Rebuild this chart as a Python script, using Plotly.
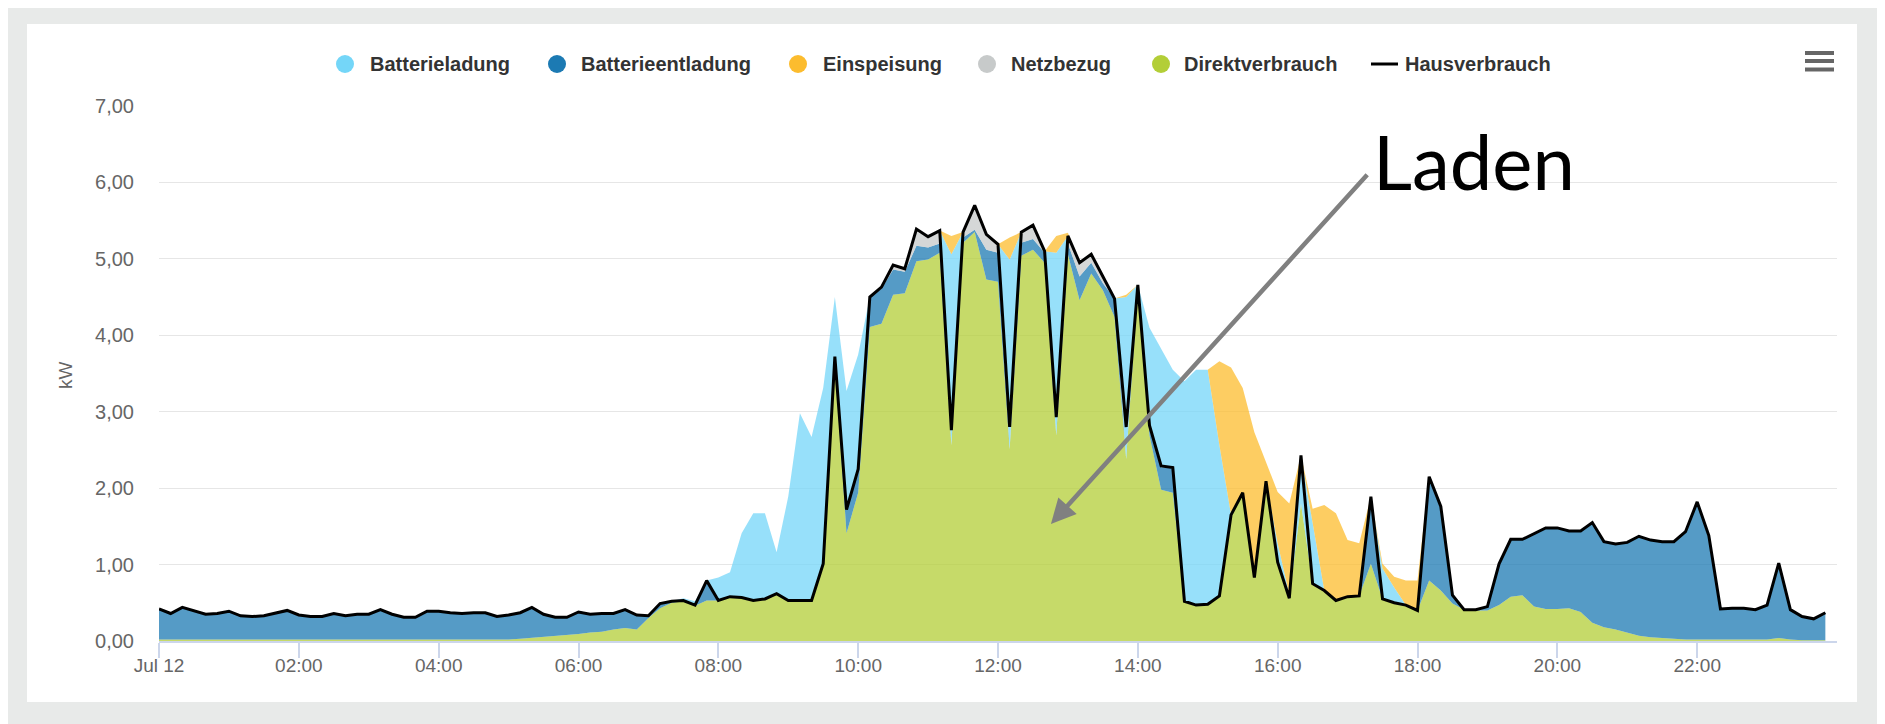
"""Hausverbrauch / PV-Tagesverlauf - stacked area chart
"""

import pandas as pd
import plotly.graph_objects as go

# 10-Minuten-Werte, 12. Juli (kW)
zeit = pd.date_range("2023-07-12 00:00", periods=144, freq="10min")

hausverbrauch = [
    0.42, 0.36, 0.44, 0.39, 0.35, 0.36, 0.39, 0.33, 0.32, 0.33, 0.37, 0.40,
    0.34, 0.32, 0.32, 0.36, 0.33, 0.35, 0.35, 0.41, 0.35, 0.31, 0.31, 0.39,
    0.39, 0.37, 0.36, 0.37, 0.37, 0.32, 0.34, 0.37, 0.44, 0.35, 0.31, 0.31,
    0.38, 0.35, 0.36, 0.36, 0.41, 0.34, 0.33, 0.49, 0.52, 0.53, 0.47, 0.79,
    0.53, 0.58, 0.57, 0.53, 0.55, 0.62, 0.53, 0.53, 0.53, 1.01, 3.72, 1.72,
    2.25, 4.50, 4.63, 4.92, 4.87, 5.39, 5.29, 5.37, 2.76, 5.35, 5.70, 5.32,
    5.19, 2.80, 5.35, 5.44, 5.10, 2.93, 5.30, 4.95, 5.06, 4.77, 4.48, 2.80,
    4.66, 2.82, 2.29, 2.27, 0.52, 0.47, 0.48, 0.59, 1.65, 1.94, 0.83, 2.09,
    1.03, 0.56, 2.43, 0.75, 0.66, 0.53, 0.58, 0.59, 1.89, 0.55, 0.50, 0.47,
    0.40, 2.15, 1.76, 0.60, 0.41, 0.41, 0.45, 1.01, 1.33, 1.33, 1.41, 1.48,
    1.48, 1.44, 1.44, 1.55, 1.30, 1.27, 1.29, 1.37, 1.32, 1.30, 1.30, 1.43,
    1.82, 1.38, 0.42, 0.43, 0.43, 0.41, 0.47, 1.02, 0.41, 0.32, 0.29, 0.37,
]

direktverbrauch = [
    0.02, 0.02, 0.02, 0.02, 0.02, 0.02, 0.02, 0.02, 0.02, 0.02, 0.02, 0.02,
    0.02, 0.02, 0.02, 0.02, 0.02, 0.02, 0.02, 0.02, 0.02, 0.02, 0.02, 0.02,
    0.02, 0.02, 0.02, 0.02, 0.02, 0.02, 0.02, 0.03, 0.04, 0.05, 0.06, 0.08,
    0.09, 0.11, 0.12, 0.15, 0.17, 0.15, 0.30, 0.43, 0.50, 0.52, 0.46, 0.53,
    0.53, 0.58, 0.57, 0.53, 0.55, 0.62, 0.53, 0.53, 0.53, 1.01, 3.65, 1.41,
    1.94, 4.11, 4.15, 4.53, 4.55, 4.97, 4.99, 5.08, 2.56, 5.21, 5.35, 4.73,
    4.70, 2.51, 5.04, 5.12, 4.95, 2.69, 5.06, 4.46, 4.81, 4.59, 4.24, 2.38,
    4.60, 2.69, 1.98, 1.94, 0.52, 0.47, 0.48, 0.59, 1.65, 1.94, 0.83, 2.09,
    1.00, 0.55, 1.80, 0.75, 0.66, 0.53, 0.58, 0.59, 1.01, 0.55, 0.50, 0.47,
    0.40, 0.79, 0.66, 0.49, 0.41, 0.40, 0.40, 0.47, 0.58, 0.60, 0.45, 0.42,
    0.42, 0.43, 0.38, 0.24, 0.18, 0.15, 0.11, 0.07, 0.05, 0.04, 0.03, 0.02,
    0.02, 0.02, 0.02, 0.02, 0.02, 0.02, 0.02, 0.04, 0.02, 0.01, 0.01, 0.01,
]

batterieentladung = [
    0.40, 0.34, 0.42, 0.37, 0.33, 0.34, 0.37, 0.31, 0.30, 0.31, 0.35, 0.38,
    0.32, 0.30, 0.30, 0.34, 0.31, 0.33, 0.33, 0.39, 0.33, 0.29, 0.29, 0.37,
    0.37, 0.35, 0.34, 0.35, 0.35, 0.30, 0.32, 0.34, 0.40, 0.30, 0.25, 0.23,
    0.29, 0.24, 0.24, 0.21, 0.24, 0.19, 0.03, 0.06, 0.02, 0.01, 0.01, 0.26,
    0.00, 0.00, 0.00, 0.00, 0.00, 0.00, 0.00, 0.00, 0.00, 0.00, 0.07, 0.31,
    0.31, 0.39, 0.46, 0.33, 0.28, 0.20, 0.16, 0.12, 0.00, 0.07, 0.03, 0.39,
    0.38, 0.00, 0.17, 0.14, 0.13, 0.00, 0.14, 0.31, 0.14, 0.09, 0.24, 0.00,
    0.06, 0.13, 0.29, 0.33, 0.00, 0.00, 0.00, 0.00, 0.00, 0.00, 0.00, 0.00,
    0.03, 0.01, 0.00, 0.00, 0.00, 0.00, 0.00, 0.00, 0.88, 0.00, 0.00, 0.00,
    0.00, 1.36, 1.10, 0.11, 0.00, 0.01, 0.05, 0.54, 0.75, 0.73, 0.96, 1.06,
    1.06, 1.01, 1.06, 1.31, 1.12, 1.12, 1.18, 1.30, 1.27, 1.26, 1.27, 1.41,
    1.80, 1.36, 0.40, 0.41, 0.41, 0.39, 0.45, 0.98, 0.39, 0.31, 0.28, 0.36,
]

netzbezug = [
    0.00, 0.00, 0.00, 0.00, 0.00, 0.00, 0.00, 0.00, 0.00, 0.00, 0.00, 0.00,
    0.00, 0.00, 0.00, 0.00, 0.00, 0.00, 0.00, 0.00, 0.00, 0.00, 0.00, 0.00,
    0.00, 0.00, 0.00, 0.00, 0.00, 0.00, 0.00, 0.00, 0.00, 0.00, 0.00, 0.00,
    0.00, 0.00, 0.00, 0.00, 0.00, 0.00, 0.00, 0.00, 0.00, 0.00, 0.00, 0.00,
    0.00, 0.00, 0.00, 0.00, 0.00, 0.00, 0.00, 0.00, 0.00, 0.00, 0.00, 0.00,
    0.00, 0.00, 0.02, 0.06, 0.04, 0.20, 0.14, 0.17, 0.00, 0.07, 0.32, 0.20,
    0.11, 0.00, 0.14, 0.18, 0.02, 0.00, 0.10, 0.18, 0.11, 0.09, 0.00, 0.00,
    0.00, 0.00, 0.00, 0.00, 0.00, 0.00, 0.00, 0.00, 0.00, 0.00, 0.00, 0.00,
    0.00, 0.00, 0.00, 0.00, 0.00, 0.00, 0.00, 0.00, 0.00, 0.00, 0.00, 0.00,
    0.00, 0.00, 0.00, 0.00, 0.00, 0.00, 0.00, 0.00, 0.00, 0.00, 0.00, 0.00,
    0.00, 0.00, 0.00, 0.00, 0.00, 0.00, 0.00, 0.00, 0.00, 0.00, 0.00, 0.00,
    0.00, 0.00, 0.00, 0.00, 0.00, 0.00, 0.00, 0.00, 0.00, 0.00, 0.00, 0.00,
]

batterieladung = [
    0.00, 0.00, 0.00, 0.00, 0.00, 0.00, 0.00, 0.00, 0.00, 0.00, 0.00, 0.00,
    0.00, 0.00, 0.00, 0.00, 0.00, 0.00, 0.00, 0.00, 0.00, 0.00, 0.00, 0.00,
    0.00, 0.00, 0.00, 0.00, 0.00, 0.00, 0.00, 0.00, 0.00, 0.00, 0.00, 0.00,
    0.00, 0.00, 0.00, 0.00, 0.00, 0.00, 0.00, 0.00, 0.00, 0.03, 0.05, 0.00,
    0.30, 0.32, 0.84, 1.14, 1.12, 0.54, 1.36, 2.45, 2.14, 2.30, 0.78, 1.55,
    1.50, 0.00, 0.00, 0.00, 0.00, 0.00, 0.00, 0.00, 2.50, 0.00, 0.00, 0.00,
    0.00, 2.48, 0.00, 0.00, 0.00, 2.39, 0.00, 0.00, 0.00, 0.00, 0.00, 2.12,
    0.00, 1.28, 1.56, 1.28, 2.88, 3.08, 3.07, 1.97, 0.00, 0.00, 0.00, 0.00,
    0.25, 0.05, 0.63, 0.81, 0.00, 0.00, 0.00, 0.00, 0.00, 0.40, 0.20, 0.00,
    0.00, 0.00, 0.00, 0.03, 0.00, 0.00, 0.00, 0.00, 0.00, 0.00, 0.00, 0.00,
    0.00, 0.00, 0.00, 0.00, 0.00, 0.00, 0.00, 0.00, 0.00, 0.00, 0.00, 0.00,
    0.00, 0.00, 0.00, 0.00, 0.00, 0.00, 0.00, 0.00, 0.00, 0.00, 0.00, 0.00,
]

einspeisung = [
    0.00, 0.00, 0.00, 0.00, 0.00, 0.00, 0.00, 0.00, 0.00, 0.00, 0.00, 0.00,
    0.00, 0.00, 0.00, 0.00, 0.00, 0.00, 0.00, 0.00, 0.00, 0.00, 0.00, 0.00,
    0.00, 0.00, 0.00, 0.00, 0.00, 0.00, 0.00, 0.00, 0.00, 0.00, 0.00, 0.00,
    0.00, 0.00, 0.00, 0.00, 0.00, 0.00, 0.00, 0.00, 0.00, 0.00, 0.00, 0.00,
    0.00, 0.00, 0.00, 0.00, 0.00, 0.00, 0.00, 0.00, 0.00, 0.00, 0.00, 0.00,
    0.00, 0.00, 0.00, 0.00, 0.00, 0.00, 0.00, 0.00, 0.24, 0.00, 0.00, 0.00,
    0.00, 0.29, 0.00, 0.00, 0.00, 0.22, 0.04, 0.00, 0.00, 0.00, 0.00, 0.03,
    0.00, 0.00, 0.00, 0.00, 0.00, 0.00, 0.00, 1.10, 1.93, 1.37, 1.90, 0.25,
    0.67, 1.19, 0.00, 0.17, 1.12, 1.14, 0.74, 0.69, 0.00, 0.06, 0.14, 0.32,
    0.39, 0.00, 0.00, 0.00, 0.00, 0.00, 0.00, 0.00, 0.00, 0.00, 0.00, 0.00,
    0.00, 0.00, 0.00, 0.00, 0.00, 0.00, 0.00, 0.00, 0.00, 0.00, 0.00, 0.00,
    0.00, 0.00, 0.00, 0.00, 0.00, 0.00, 0.00, 0.00, 0.00, 0.00, 0.00, 0.00,
]

tick_zeit = pd.date_range("2023-07-12 00:00", periods=12, freq="2h")
tick_text = ["Jul 12", "02:00", "04:00", "06:00", "08:00", "10:00",
             "12:00", "14:00", "16:00", "18:00", "20:00", "22:00"]

legende = ["Batterieladung", "Batterieentladung", "Einspeisung",
           "Netzbezug", "Direktverbrauch", "Hausverbrauch"]

# Farben (Legende voll, Flaechen mit 75 % Deckkraft)
farben = {
    "Batterieladung": "#74d6f8",
    "Batterieentladung": "#1c7ab3",
    "Einspeisung": "#fcbc2e",
    "Netzbezug": "#c7caca",
    "Direktverbrauch": "#b3ce37",
}

# die Seite hat 8px Rand (body margin) -> alles um 8px verschoben
OFF = 8
W, H = 1885 - OFF, 724 - OFF
L, R, T, B = 151, 48, 98, 83
PW = W - L - R
PH = H - T - B


def px(x, y):
    """Pixel im Fenster (von oben links) -> paper-Koordinaten"""
    return (x - OFF - L) / PW, (H - B - (y - OFF)) / PH


def rgba(hexcol, a):
    h = hexcol.lstrip("#")
    return "rgba(%d,%d,%d,%s)" % (int(h[0:2], 16), int(h[2:4], 16), int(h[4:6], 16), a)


fig = go.Figure()

# Stapelreihenfolge von unten nach oben
stapel = [
    ("Direktverbrauch", direktverbrauch),
    ("Batterieentladung", batterieentladung),
    ("Netzbezug", netzbezug),
    ("Batterieladung", batterieladung),
    ("Einspeisung", einspeisung),
]
for name, werte in stapel:
    fig.add_trace(go.Scatter(
        x=zeit, y=werte, name=name, mode="lines", stackgroup="pv",
        line=dict(width=0, color=farben[name]),
        fillcolor=rgba(farben[name], 0.75),
        showlegend=False, hoverinfo="skip",
    ))

fig.add_trace(go.Scatter(
    x=zeit, y=hausverbrauch, name="Hausverbrauch", mode="lines",
    line=dict(color="#000000", width=3), showlegend=False,
))

shapes = []
annotations = []

# grauer Rahmen + weisse Karte
x0, y0 = px(8, 6)
x1, y1 = px(1880, 730)
shapes.append(dict(type="rect", xref="paper", yref="paper", x0=x0, y0=y1, x1=x1, y1=y0,
                   fillcolor="#e8eae9", line=dict(width=0), layer="below"))
x0, y0 = px(27, 24)
x1, y1 = px(1857, 702)
shapes.append(dict(type="rect", xref="paper", yref="paper", x0=x0, y0=y1, x1=x1, y1=y0,
                   fillcolor="#ffffff", line=dict(width=0), layer="below"))

# Menue-Symbol
for yy in (53, 61, 69.5):
    a0, b0 = px(1805, yy)
    a1, b1 = px(1834, yy)
    shapes.append(dict(type="line", xref="paper", yref="paper", x0=a0, y0=b0, x1=a1, y1=b1,
                       line=dict(color="#666666", width=4)))

# Legende von Hand (Kreise + Text)
leg_y = 64
kreis_x = [345, 557, 798, 987, 1161]
text_x = [368, 579, 821, 1009, 1182, 1403]
for i, name in enumerate(legende):
    if i < 5:
        a0, b0 = px(kreis_x[i] - 9, leg_y - 9)
        a1, b1 = px(kreis_x[i] + 9, leg_y + 9)
        shapes.append(dict(type="circle", xref="paper", yref="paper",
                           x0=a0, y0=b1, x1=a1, y1=b0,
                           fillcolor=farben[name], line=dict(width=0)))
    else:
        a0, b0 = px(1371, leg_y)
        a1, b1 = px(1398, leg_y)
        shapes.append(dict(type="line", xref="paper", yref="paper", x0=a0, y0=b0, x1=a1, y1=b1,
                           line=dict(color="#000000", width=3)))
    tx, ty = px(text_x[i], leg_y)
    annotations.append(dict(text=name, xref="paper", yref="paper", x=tx, y=ty,
                            xanchor="left", yanchor="middle", showarrow=False,
                            font=dict(family="Liberation Sans, Arial, sans-serif",
                                      size=20, color="#333333", weight="bold")))

# Achsentitel kW
tx, ty = px(65, 375)
annotations.append(dict(text="kW", xref="paper", yref="paper", x=tx, y=ty,
                        xanchor="center", yanchor="middle",
                        textangle=-90, showarrow=False,
                        font=dict(family="Liberation Sans, Arial, sans-serif",
                                  size=19, color="#666666")))

# Pfeil + "Laden"
annotations.append(dict(x="2023-07-12 12:45:25", y=1.53, ax="2023-07-12 17:18:00", ay=6.12,
                        xref="x", yref="y", axref="x", ayref="y", text="",
                        showarrow=True, arrowhead=2, arrowsize=1.1, arrowwidth=4.5,
                        arrowcolor="#808080", standoff=0))
tx, ty = px(1371, 160)
annotations.append(dict(text="Laden", xref="paper", yref="paper", x=tx, y=ty,
                        xanchor="left", yanchor="middle", showarrow=False,
                        font=dict(family="Lato, Carlito, Calibri, sans-serif",
                                  size=76, color="#000000")))

fig.update_layout(
    width=W, height=H,
    margin=dict(l=L, r=R, t=T, b=B),
    paper_bgcolor="#ffffff",
    plot_bgcolor="rgba(0,0,0,0)",
    separators=",.",
    showlegend=False,
    shapes=shapes,
    annotations=annotations,
    font=dict(family="Liberation Sans, Arial, sans-serif", size=19, color="#666666"),
)

fig.update_xaxes(
    type="date",
    range=["2023-07-12 00:00", "2023-07-13 00:00"],
    tickvals=tick_zeit, ticktext=tick_text,
    ticks="outside", ticklen=15, tickwidth=1.5, tickcolor="#ccd6eb",
    ticklabelstandoff=-9,
    showline=True, linecolor="#ccd6eb", linewidth=1.5,
    showgrid=False, zeroline=False,
    tickfont=dict(size=19, color="#666666"),
)

fig.update_yaxes(
    range=[0, 7], dtick=1, tickformat=".2f",
    gridcolor="#e6e6e6", gridwidth=1,
    showline=False, zeroline=False,
    ticks="outside", ticklen=20, tickcolor="rgba(0,0,0,0)",
    tickfont=dict(size=20, color="#666666"),
)

fig.write_html("out.html")
